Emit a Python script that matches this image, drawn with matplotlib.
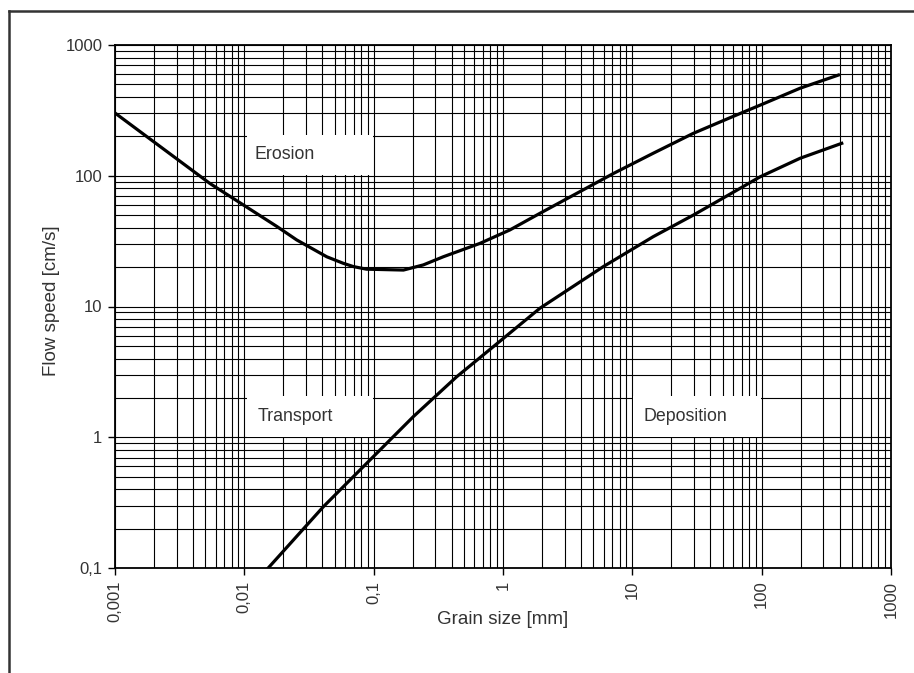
import numpy as np
import matplotlib
matplotlib.use('Agg')
from matplotlib import pyplot as plt
from matplotlib.patches import Rectangle
from matplotlib.lines import Line2D
from matplotlib.ticker import LogLocator, NullFormatter

# curves
erosion_x = [0.001, 0.0054, 0.0178, 0.0254, 0.0434, 0.0582, 0.0697, 0.088, 0.17, 0.242,
             0.345, 0.664, 1.13, 1.93, 7.13, 14.5, 29.6, 57, 103, 198, 392]
erosion_y = [302, 87.5, 41, 32.3, 24, 21.4, 20.2, 19.3, 19.0, 20.8,
             24, 30.4, 38.5, 51.6, 104, 148.6, 211, 278, 355, 467, 589]

deposition_x = [0.0153, 0.0408, 0.088, 0.203, 0.438, 0.842, 1.93, 5.97, 14.5, 29.6, 53.7, 97, 198, 416]
deposition_y = [0.1, 0.294, 0.63, 1.44, 2.9, 4.93, 9.7, 20.2, 34.2, 50, 70, 98, 136, 177]

xticks = [0.001, 0.01, 0.1, 1, 10, 100, 1000]
xticklabels = ['0,001', '0,01', '0,1', '1', '10', '100', '1000']
yticks = [0.1, 1, 10, 100, 1000]
yticklabels = ['0,1', '1', '10', '100', '1000']

plt.rcParams['font.family'] = ['Liberation Sans', 'DejaVu Sans']

fig = plt.figure(figsize=(9.14, 6.73), dpi=100)
ax = fig.add_axes([115/914, 105/673, 776/914, 523/673])

ax.set_xscale('log')
ax.set_yscale('log')
ax.set_xlim(0.001, 1000)
ax.set_ylim(0.1, 1000)

ax.xaxis.set_minor_locator(LogLocator(base=10, subs=np.arange(2, 10)))
ax.yaxis.set_minor_locator(LogLocator(base=10, subs=np.arange(2, 10)))
ax.xaxis.set_minor_formatter(NullFormatter())
ax.yaxis.set_minor_formatter(NullFormatter())
ax.grid(True, which='both', color='black', linewidth=0.8, zorder=0)
ax.set_axisbelow(True)

ax.set_xticks(xticks)
ax.set_xticklabels(xticklabels, rotation=90, fontsize=12, color='#333333')
ax.set_yticks(yticks)
ax.set_yticklabels(yticklabels, fontsize=12, color='#333333')
ax.tick_params(which='major', direction='out', length=5, width=1, pad=4)
ax.tick_params(which='minor', length=0)
for s in ax.spines.values():
    s.set_linewidth(1.3)

# white label boxes covering the grid
boxes = [((0.0105, 101), (0.099, 205), 'Erosion', 0.012, 145),
         ((0.0105, 1.01), (0.099, 2.05), 'Transport', 0.0126, 1.44),
         ((10.1, 1.01), (99, 2.05), 'Deposition', 12.3, 1.44)]
for (x0, y0), (x1, y1), txt, tx, ty in boxes:
    ax.add_patch(Rectangle((x0, y0), x1 - x0, y1 - y0, facecolor='white',
                           edgecolor='none', zorder=1.5))
    ax.text(tx, ty, txt, fontsize=12.8, color='#333333', va='center', ha='left', zorder=3)

ax.plot(erosion_x, erosion_y, color='black', linewidth=2.3, zorder=4,
        solid_joinstyle='round')
ax.plot(deposition_x, deposition_y, color='black', linewidth=2.3, zorder=4,
        solid_joinstyle='round')

ax.set_xlabel('Grain size [mm]', fontsize=13.5, color='#333333', va='center')
ax.xaxis.set_label_coords(0.5, -0.0994)
ax.set_ylabel('Flow speed [cm/s]', fontsize=13.5, color='#333333', va='center')
ax.yaxis.set_label_coords(-0.0812, 0.512)

# outer frame (cut off at right and bottom)
fig.add_artist(Line2D([9/914, 9/914], [0, 1 - 11/673], color='#333333', linewidth=1.8))
fig.add_artist(Line2D([9/914, 1], [1 - 11/673, 1 - 11/673], color='#333333', linewidth=1.8))

fig.savefig('out.png', dpi=100)
